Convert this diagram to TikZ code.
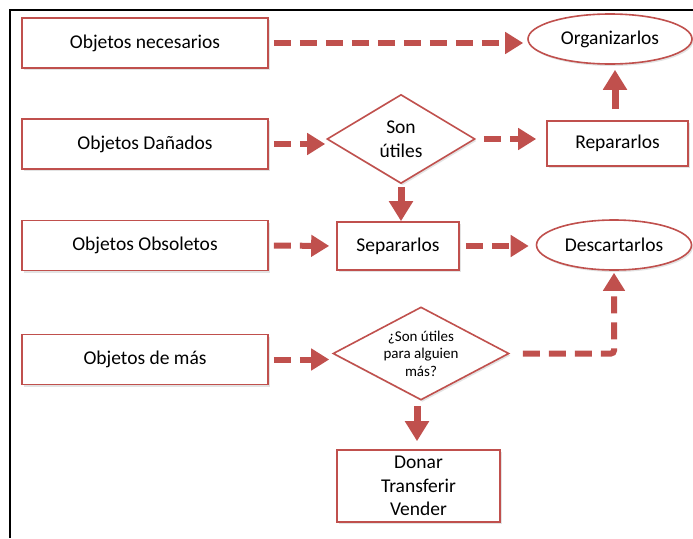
\documentclass[tikz,border=0pt]{standalone}
\usepackage{fontspec}
\setmainfont{Carlito}
\usetikzlibrary{shapes.geometric,arrows.meta,shadows}
\definecolor{accred}{HTML}{C0504D}
\begin{document}
\begin{tikzpicture}[x=1pt,y=-1pt,
  shade/.style={drop shadow={opacity=0.22,shadow xshift=1.5pt,shadow yshift=-2pt}},
  srcbox/.style={draw=accred,line width=1.6pt,fill=white,shade,minimum width=246pt,minimum height=50pt,inner sep=0pt,font=\fontsize{19.5}{23}\selectfont},
  stepbox/.style={draw=accred,line width=1.6pt,fill=white,shade,inner sep=0pt,align=center,font=\fontsize{19.5}{23}\selectfont},
  endoval/.style={ellipse,draw=accred,line width=1.6pt,fill=white,shade,inner sep=0pt,font=\fontsize{19.5}{23}\selectfont},
  query/.style={diamond,draw=accred,line width=1.6pt,fill=white,shade,inner sep=0pt,align=center},
  flowdash/.style={draw=accred,line width=6pt,dash pattern=on 17pt off 9pt,
    -{Triangle[length=18pt,width=21pt]}},
  flowsolid/.style={draw=accred,line width=7pt,-{Triangle[length=20pt,width=23pt]}}]
\useasboundingbox (0,0) rectangle (693,538);
% frame
\draw[line width=2pt] (10,538) -- (10,10) -- (693,10);

% sources
\node[srcbox] (nec) at (145,43) {Objetos necesarios};
\node[srcbox] (dan) at (145,144) {Objetos Dañados};
\node[srcbox] (obs) at (145,245.5) {Objetos Obsoletos};
\node[srcbox] (mas) at (145,359.5) {Objetos de más};

% decisions
\node[query,aspect=1.66,minimum width=148pt,minimum height=89pt,font=\fontsize{19.5}{24}\selectfont] (util) at (401,139) {Son\\útiles};
\node[query,aspect=1.9,minimum width=176pt,minimum height=93pt,font=\fontsize{15}{17.5}\selectfont] (otro) at (421,353.5) {¿Son útiles\\para alguien\\más?};

% actions
\node[stepbox,minimum width=141pt,minimum height=45pt] (rep) at (617.5,143.5) {Repararlos};
\node[stepbox,minimum width=122pt,minimum height=48pt] (sep) at (398,246) {Separarlos};
\node[stepbox,minimum width=163pt,minimum height=72pt,font=\fontsize{19.5}{23.5}\selectfont] (don) at (418.5,486) {Donar\\Transferir\\Vender};

% outcomes
\node[endoval,minimum width=164pt,minimum height=50pt] (org) at (610,39) {Organizarlos};
\node[endoval,minimum width=155pt,minimum height=50pt] (des) at (614,245) {Descartarlos};

% connectors
\draw[flowdash,shorten <=5pt,shorten >=4pt] (nec.east) -- (nec.east -| org.west);
\draw[flowdash,shorten <=5pt,shorten >=1pt] (dan.east) -- (dan.east -| util.west);
\draw[flowdash,shorten <=8pt,shorten >=10pt] (util.east) -- (util.east -| rep.west);
\draw[flowsolid,shorten <=11pt,shorten >=5pt] (rep.north -| 615,0) -- (org.south -| 615,0);
\draw[flowsolid,shorten <=3pt,shorten >=0pt] (util.south) -- (util.south |- sep.north);
\draw[flowdash,shorten <=5pt,shorten >=7pt] (obs.east) -- (sep.west);
\draw[flowdash,shorten <=6pt,shorten >=7pt] (sep.east) -- (sep.east -| des.west);
\draw[flowdash,shorten <=5pt,shorten >=3pt] (mas.east) -- (mas.east -| otro.west);
\draw[flowdash,rounded corners=3pt,shorten <=13pt,shorten >=2pt] (otro.east) -| (des.south);
\draw[flowsolid,shorten <=5pt,shorten >=8pt] (otro.south -| 417,0) -- (don.north -| 417,0);
\end{tikzpicture}
\end{document}
